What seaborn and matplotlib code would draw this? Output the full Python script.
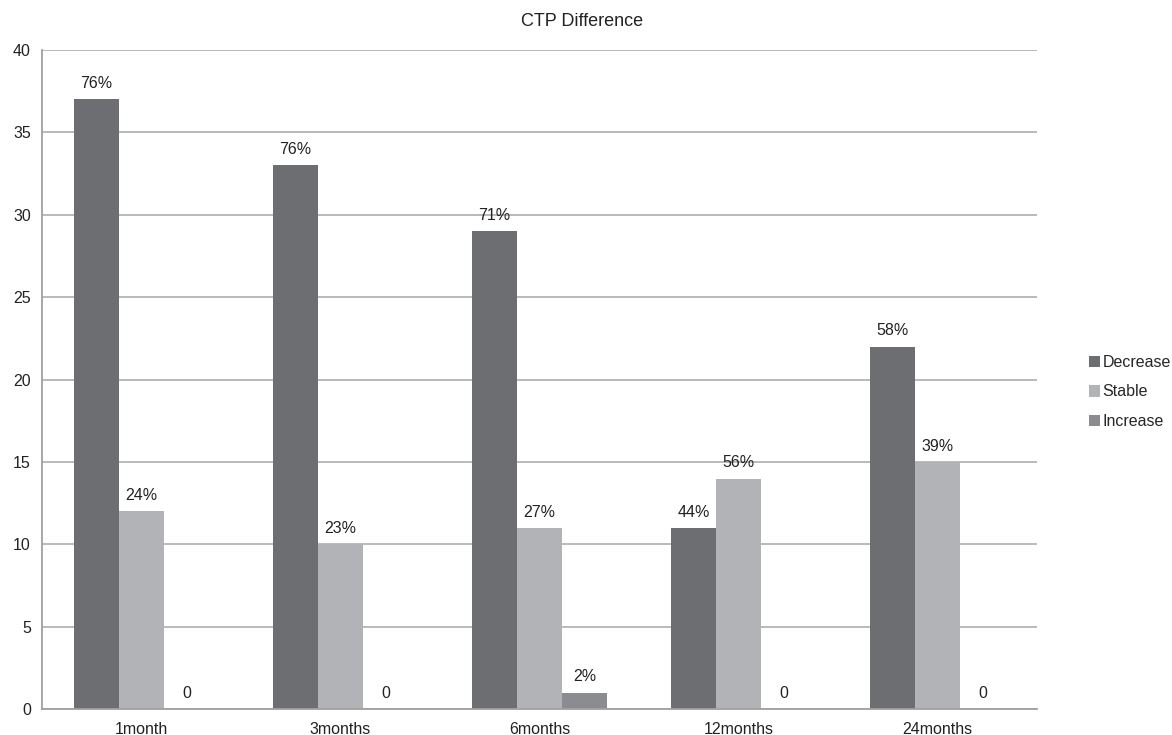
import matplotlib
matplotlib.use("Agg")
import matplotlib.pyplot as plt
import seaborn as sns
import pandas as pd

# CTP change counts per follow-up time point
periods = ["1month", "3months", "6months", "12months", "24months"]
groups = ["Decrease", "Stable", "Increase"]
decrease = [37, 33, 29, 11, 22]
stable = [12, 10, 11, 14, 15]
increase = [0, 0, 1, 0, 0]
decrease_labels = ["76%", "76%", "71%", "44%", "58%"]
stable_labels = ["24%", "23%", "27%", "56%", "39%"]
increase_labels = ["0", "0", "2%", "0", "0"]

colors = ["#6d6e72", "#b2b3b7", "#8b8c90"]
FS = 11.5

rows = []
for g, vals, labs in zip(groups, [decrease, stable, increase],
                         [decrease_labels, stable_labels, increase_labels]):
    for p, v, l in zip(periods, vals, labs):
        rows.append({"period": p, "group": g, "count": v, "label": l})
df = pd.DataFrame(rows)

sns.set_theme(style="white")
plt.rcParams["font.family"] = ["Liberation Sans", "DejaVu Sans"]

fig = plt.figure(figsize=(11.72, 7.35), dpi=100)
ax = fig.add_axes([0.0358, 0.035, 0.849, 0.897])

sns.barplot(data=df, x="period", y="count", hue="group", order=periods,
            hue_order=groups, palette=colors, width=0.68, saturation=1,
            edgecolor="none", linewidth=0, ax=ax, legend=True)

# value labels above each bar
for container, g in zip(ax.containers, groups):
    labs = df[df["group"] == g].set_index("period").loc[periods, "label"].tolist()
    ax.bar_label(container, labels=labs, padding=6, fontsize=FS, color="#222222")

ax.set_ylim(0, 40)
ax.set_xlim(-0.5, len(periods) - 0.5)
ax.set_yticks(range(0, 41, 5))
ax.yaxis.grid(True, color="#b4b4b4", linewidth=1.3)
ax.set_axisbelow(True)
ax.set_xlabel("")
ax.set_ylabel("")

fig.text(582 / 1172, 1 - 22 / 735, "CTP Difference", fontsize=13,
         color="#222222", ha="center", va="center")

for s in ["top", "right"]:
    ax.spines[s].set_visible(False)
for s in ["left", "bottom"]:
    ax.spines[s].set_color("#a0a0a0")
    ax.spines[s].set_linewidth(1.3)

# x tick marks sit on the boundaries between categories
ax.set_xticks([i - 0.5 for i in range(len(periods) + 1)], minor=False)
ax.set_xticklabels([])
ax.set_xticks(range(len(periods)), minor=True)
ax.set_xticklabels(periods, minor=True, fontsize=FS, color="#222222")
ax.tick_params(axis="x", which="major", length=4, width=1.3, color="#a0a0a0", direction="out")
ax.tick_params(axis="x", which="minor", length=0, pad=9)
ax.tick_params(axis="y", length=4, width=1.3, color="#a0a0a0", direction="out",
               labelsize=FS, labelcolor="#222222", pad=4)

handles, labels = ax.get_legend_handles_labels()
ax.get_legend().remove()
fig.legend(handles, labels, loc="center left",
           bbox_to_anchor=(1089 / 1172, 1 - 392 / 735), frameon=False,
           fontsize=FS, handlelength=0.7, handleheight=0.7, handletextpad=0.15,
           labelspacing=0.9, borderaxespad=0, borderpad=0)

fig.savefig("out.png", dpi=100, facecolor="white")
